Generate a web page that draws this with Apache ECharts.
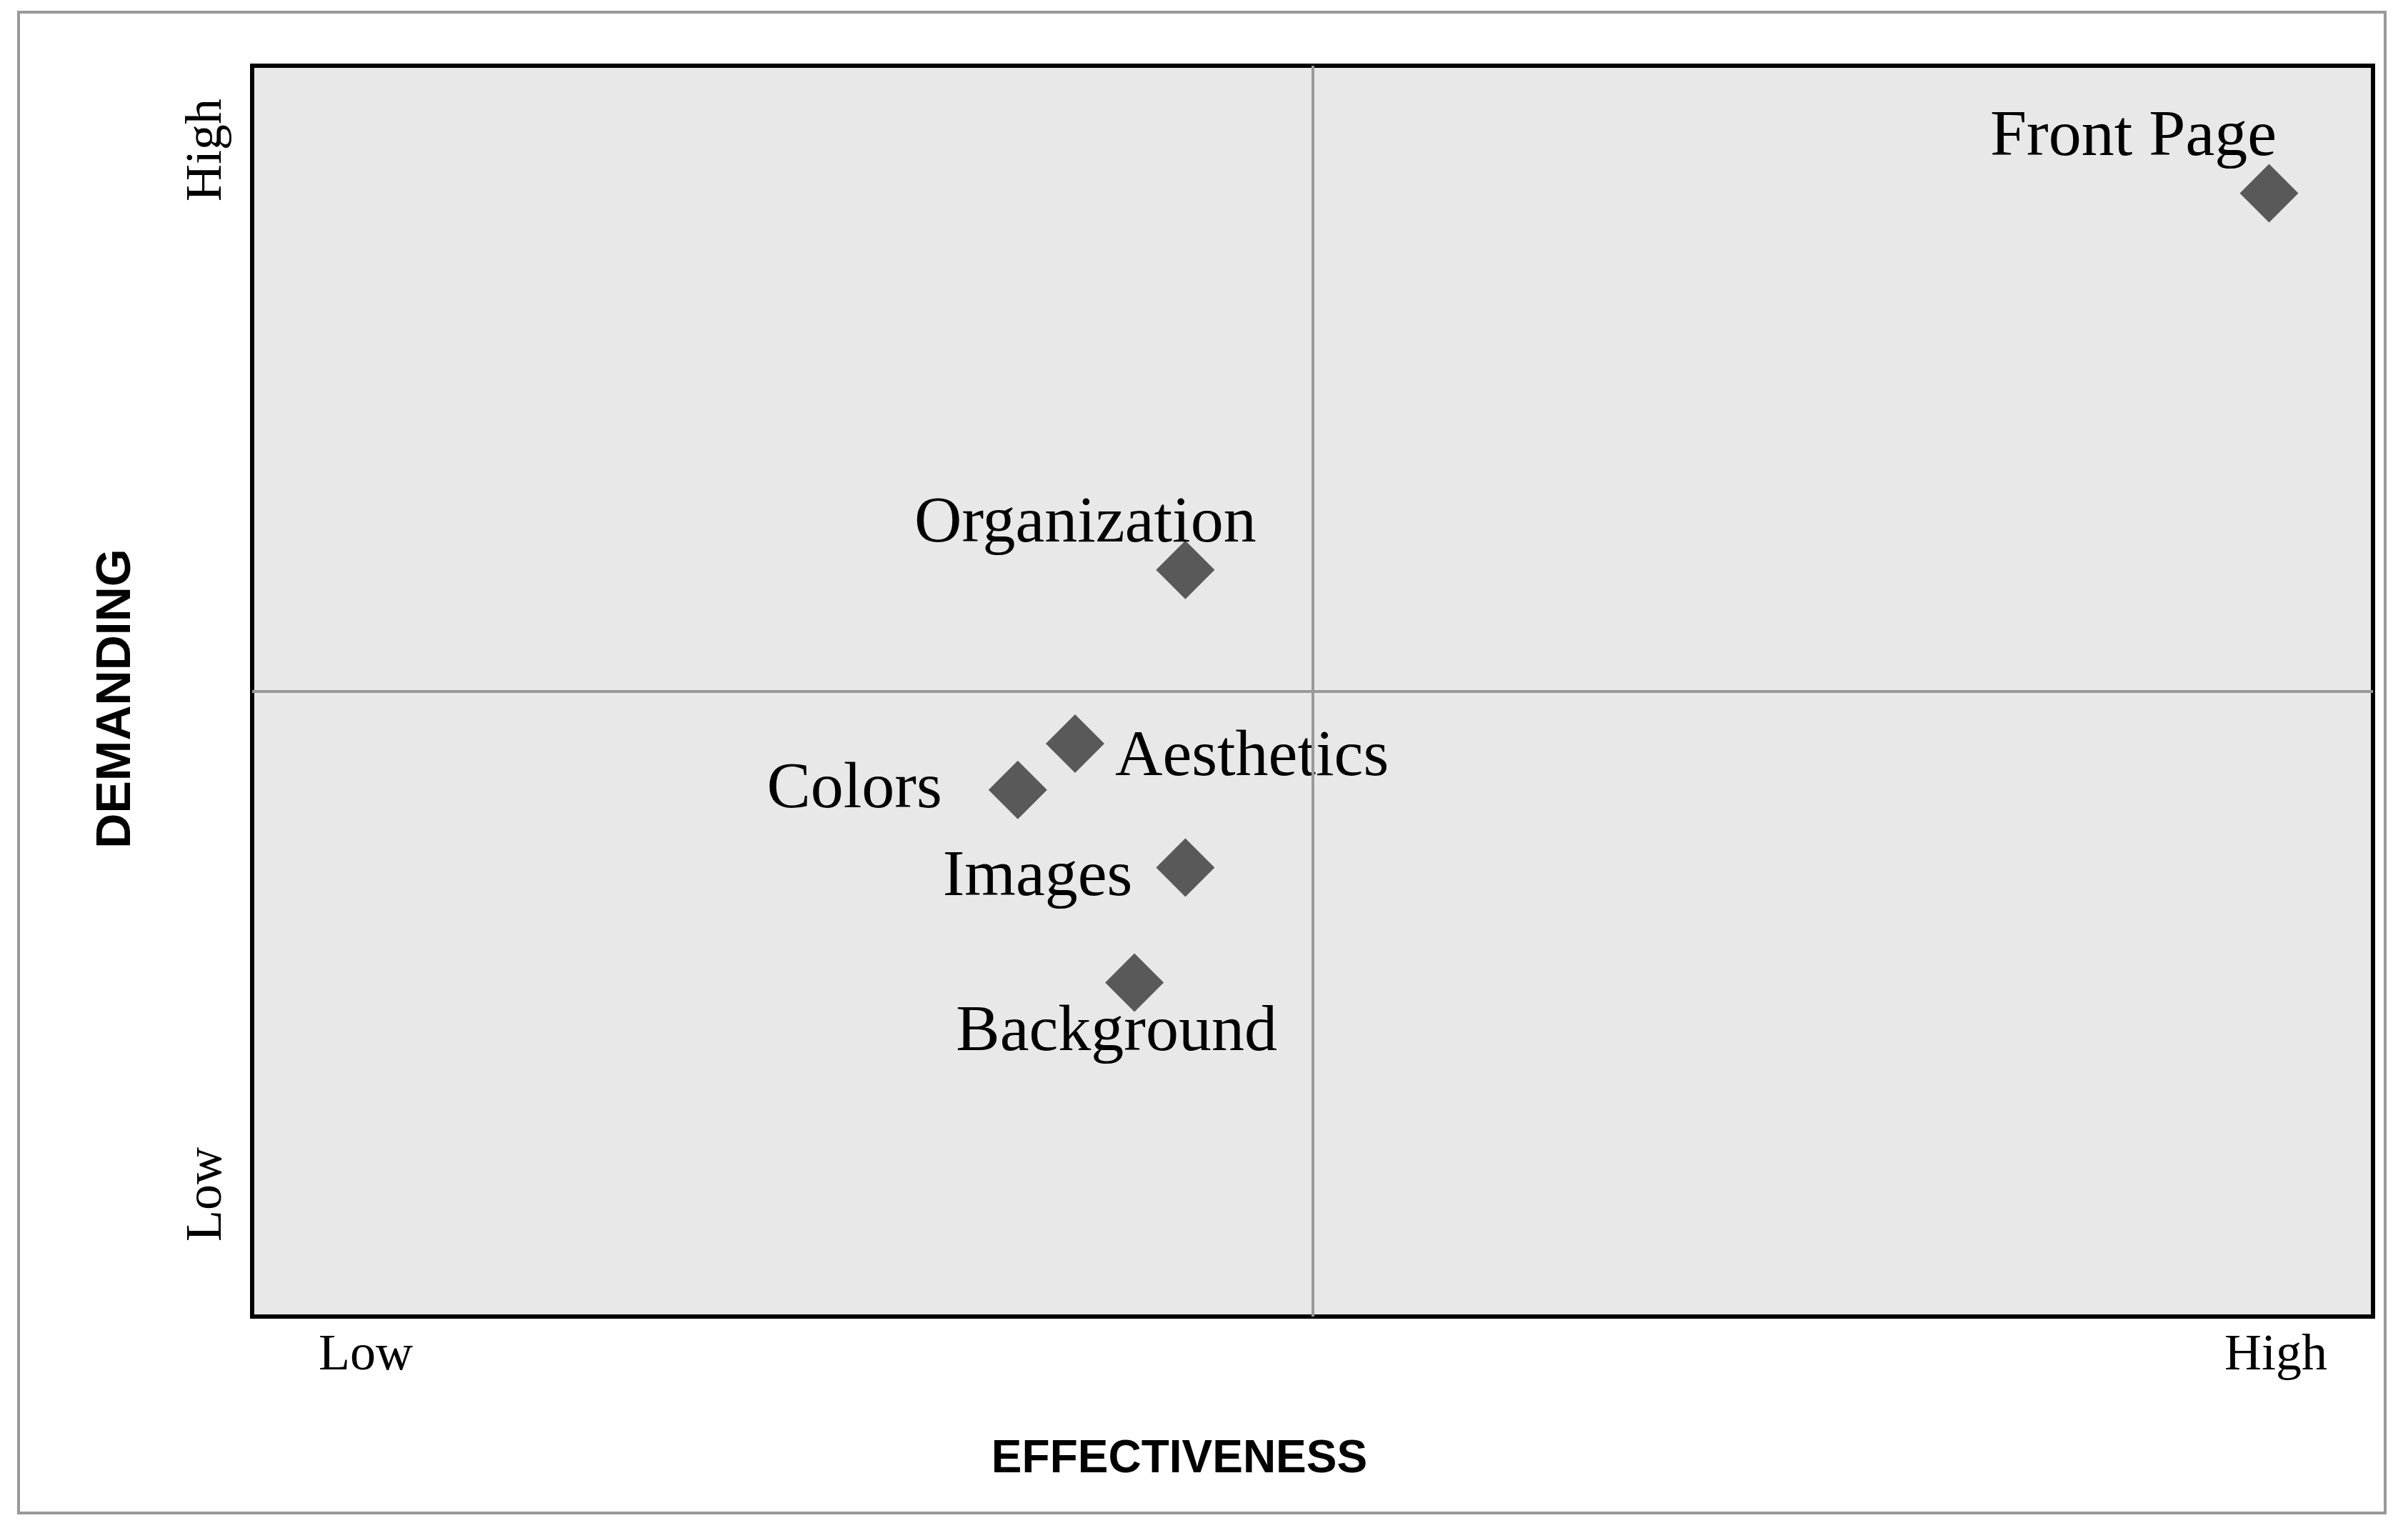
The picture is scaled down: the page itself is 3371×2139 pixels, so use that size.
<!DOCTYPE html>
<html>
<head>
<meta charset="utf-8">
<script src="https://cdn.jsdelivr.net/npm/echarts@6/dist/echarts.min.js"></script>
<style>html,body{margin:0;padding:0;background:#fff}#c{width:3371px;height:2139px}</style>
</head>
<body>
<div id="c"></div>
<script>
// 数据
const names = ['Front Page', 'Organization', 'Aesthetics', 'Colors', 'Images', 'Background'];
const effectiveness = [9.51, 4.40, 3.88, 3.61, 4.40, 4.16];
const demanding = [8.98, 5.97, 4.58, 4.21, 3.59, 2.67];
const labelPos = ['top', 'top', 'right', 'left', 'left', 'bottom'];
const labelOffset = [[-190, 14], [-140, 28], [10, 20], [-60, 0], [-28, 14], [-25, -22]];

const chart = echarts.init(document.getElementById('c'));
const serif = 'Liberation Serif';
const points = names.map((n, i) => ({
	name: n,
	value: [effectiveness[i], demanding[i]],
	label: { position: labelPos[i], offset: labelOffset[i] }
}));

chart.setOption({
	backgroundColor: '#fff',
	grid: {
		left: 353, right: 49, top: 92, bottom: 296,
		show: true, backgroundColor: '#e8e8e8', borderColor: '#000', borderWidth: 6
	},
	xAxis: { type: 'value', min: 0, max: 10, show: false },
	yAxis: { type: 'value', min: 0, max: 10, show: false },
	graphic: [
		{ type: 'rect', shape: { x: 26, y: 17, width: 3313, height: 2101 }, style: { fill: 'none', stroke: '#999', lineWidth: 4 }, z: -10 },
		{ type: 'text', x: 512, y: 1862, style: { text: 'Low', font: '72px "Liberation Serif"', fill: '#000', textAlign: 'center' } },
		{ type: 'text', x: 3186, y: 1862, style: { text: 'High', font: '72px "Liberation Serif"', fill: '#000', textAlign: 'center' } },
		{ type: 'text', x: 290, y: 1672, rotation: Math.PI / 2, style: { text: 'Low', font: '72px "Liberation Serif"', fill: '#000', textAlign: 'center', textVerticalAlign: 'middle' } },
		{ type: 'text', x: 290, y: 210, rotation: Math.PI / 2, style: { text: 'High', font: '72px "Liberation Serif"', fill: '#000', textAlign: 'center', textVerticalAlign: 'middle' } },
		{ type: 'text', x: 163, y: 978, rotation: Math.PI / 2, style: { text: 'DEMANDING', font: 'bold 68px "Liberation Sans"', fill: '#000', textAlign: 'center', textVerticalAlign: 'middle' } },
		{ type: 'text', x: 1651, y: 2043, style: { text: 'EFFECTIVENESS', font: 'bold 64px "Liberation Sans"', fill: '#000', textAlign: 'center', textVerticalAlign: 'middle' } }
	],
	series: [{
		type: 'scatter',
		symbol: 'diamond',
		symbolSize: 82,
		itemStyle: { color: '#595959', opacity: 1 },
		label: { show: true, formatter: '{b}', fontFamily: serif, fontSize: 92, color: '#000' },
		markLine: {
			silent: true, symbol: 'none', label: { show: false },
			lineStyle: { color: '#999', width: 4, type: 'solid' },
			data: [{ xAxis: 5 }, { yAxis: 5 }]
		},
		data: points
	}]
});
</script>
</body>
</html>
